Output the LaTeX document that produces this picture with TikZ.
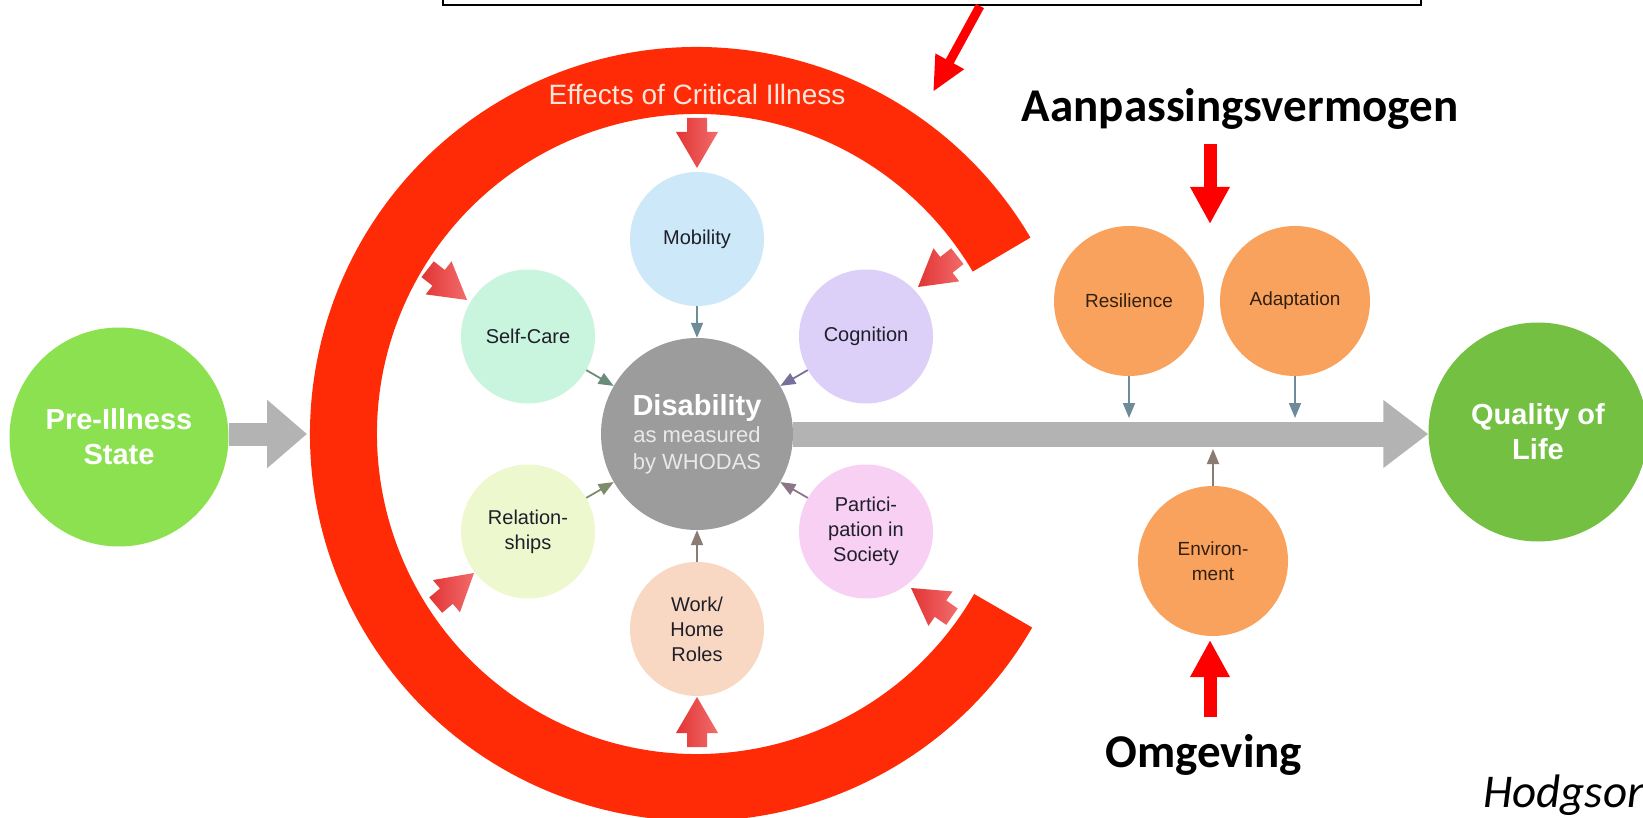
\documentclass[tikz,border=0pt]{standalone}
\usepackage{fontspec}
\setmainfont{Liberation Sans}
\newfontfamily\carlito{Carlito}
\usetikzlibrary{arrows.meta,calc}
\definecolor{ringred}{HTML}{FF2A06}
\definecolor{annred}{HTML}{FF0000}
\definecolor{baA}{HTML}{E23434}
\definecolor{baB}{HTML}{F26C6C}
\definecolor{mobc}{HTML}{CDE8F8}
\definecolor{selfc}{HTML}{C9F5DE}
\definecolor{cogc}{HTML}{DCCFF8}
\definecolor{relc}{HTML}{EEF8CF}
\definecolor{parc}{HTML}{F7D0F3}
\definecolor{workc}{HTML}{F9D8C3}
\definecolor{disc}{HTML}{9C9C9C}
\definecolor{disT}{HTML}{E9E9E9}
\definecolor{orc}{HTML}{F9A25E}
\definecolor{prec}{HTML}{8CE150}
\definecolor{qolc}{HTML}{74C043}
\definecolor{gray1}{HTML}{B3B3B3}
\definecolor{satt}{HTML}{1F1F2A}
\definecolor{ort}{HTML}{33200F}
\definecolor{effc}{HTML}{FDE7DC}
\definecolor{ar1}{HTML}{6F8B9A}
\definecolor{ar2}{HTML}{6B8C7B}
\definecolor{ar3}{HTML}{76709A}
\definecolor{ar4}{HTML}{7F8C6C}
\definecolor{ar5}{HTML}{8C7688}
\definecolor{ar6}{HTML}{8A7B73}
\begin{document}
\begin{tikzpicture}[x=1pt,y=-1pt,
  sat/.style={circle, inner sep=0pt, minimum size=134pt, align=center, text=satt, font=\fontsize{20}{25}\selectfont},
  orn/.style={circle, fill=orc, inner sep=0pt, minimum size=150pt, align=center, text=ort, font=\fontsize{19}{25}\selectfont},
  bigc/.style={circle, inner sep=0pt, minimum size=219pt, align=center, text=white, font=\fontsize{29}{35}\selectfont\bfseries},
  dutch/.style={font=\carlito\fontsize{47}{56}\selectfont\bfseries, inner sep=0pt},
  smallarr/.style={line width=1.8pt, -{Triangle[width=12pt,length=15pt]}},
  bigarrL/.style={draw=gray1, line width=23pt, -{Triangle[width=66pt,length=40pt]}},
  bigarrR/.style={draw=gray1, line width=25pt, -{Triangle[width=65pt,length=45pt]}},
  redarr/.style={draw=annred, line width=13pt, -{Triangle[width=37pt,length=37pt]}},
  blockarr/.pic={\shade[left color=baA, right color=baB] (-50,-10) -- (-36,-10) -- (-36,-21) -- (0,0) -- (-36,21) -- (-36,10) -- (-50,10) -- cycle;}
]
\fill[white] (0,0) rectangle (1643,818);
\useasboundingbox (0,0) rectangle (1643,818);
\clip (0,0) rectangle (1643,818);

% top box
\node[draw=black, line width=2.5pt, minimum width=978pt, minimum height=40pt, inner sep=0pt] (box) at (932,-15) {};

% ring
\coordinate (C) at (697,434);
\fill[ringred] ($(C)+(-30.5:387)$) arc[start angle=-30.5, end angle=-330, radius=387]
  -- ($(C)+(-330:320)$) arc[start angle=-330, end angle=-30.5, radius=320] -- cycle;
\node[font=\fontsize{28}{32}\selectfont, text=effc, anchor=base, inner sep=0pt] (eff) at (697,105) {Effects of Critical Illness};

% main nodes
\node[bigc, fill=prec] (pre) at (119,437) {Pre-Illness\\State};
\node[bigc, fill=qolc] (qol) at (1538,432) {Quality of\\Life};
\node[circle, fill=disc, minimum size=192pt, inner sep=0pt, align=center, text=disT, font=\fontsize{22}{27}\selectfont] (dis) at (C) {{\fontsize{29}{29}\selectfont\bfseries\color{white}Disability}\\as measured\\by WHODAS};

\node[sat, fill=mobc] (mob) at (697,239) {Mobility};
\node[sat, fill=selfc] (self) at (528,336.5) {Self-Care};
\node[sat, fill=cogc] (cog) at (866,336.5) {Cognition};
\node[sat, fill=relc] (rel) at (528,531.5) {Relation-\\ships};
\node[sat, fill=parc] (par) at (866,531.5) {Partici-\\pation in\\Society};
\node[sat, fill=workc] (work) at (697,629) {Work/\\Home\\Roles};

\node[orn] (res) at (1129,301) {Resilience};
\node[orn] (ada) at (1295,301) {Adaptation};
\node[orn] (env) at (1213,561) {Environ-\\ment};

% big gray arrows
\coordinate (ringL) at (307,434);
\draw[bigarrL] (pre.east |- ringL) -- (ringL);
\draw[bigarrR] (dis.east) -- (qol.west |- dis.east);

% small arrows to disability
\draw[smallarr, ar1] (mob) -- (dis);
\draw[smallarr, ar2] (self) -- (dis);
\draw[smallarr, ar3] (cog) -- (dis);
\draw[smallarr, ar4] (rel) -- (dis);
\draw[smallarr, ar5] (par) -- (dis);
\draw[smallarr, ar6] (work) -- (dis);

% small arrows to main shaft
\coordinate (shtop) at (0,418);
\coordinate (shbot) at (0,449);
\draw[smallarr, ar1] (res) -- (res |- shtop);
\draw[smallarr, ar1] (ada) -- (ada |- shtop);
\draw[smallarr, ar6] (env) -- (env |- shbot);

% block arrows from ring
\pic[rotate=-90] at (697,168) {blockarr};
\pic[rotate=90] at (697,697) {blockarr};
\pic[rotate=-38] at (467,300) {blockarr};
\pic[rotate=-142] at (918,287) {blockarr};
\pic[rotate=40] at (474,573) {blockarr};
\pic[rotate=145] at (911,588) {blockarr};

% annotation
\node[dutch, anchor=base] (aan) at (1240,122) {Aanpassingsvermogen};
\node[dutch, anchor=base] (omg) at (1204,767) {Omgeving};
\node[font=\carlito\itshape\fontsize{47}{56}\selectfont, anchor=base west, inner sep=0pt] (hod) at (1483,807) {Hodgson};

\coordinate (aanS) at (1210,144);
\coordinate (aanT) at (1210,224);
\draw[redarr] (aanS) -- (aanT);
\coordinate (omgS) at (1210,717);
\coordinate (omgT) at (1210,640);
\draw[redarr] (omgS) -- (omgT);
\coordinate (boxS) at (980,6);
\coordinate (boxT) at (933,92);
\draw[draw=annred, line width=9pt, -{Triangle[width=30pt,length=35pt]}] (boxS) -- (boxT);
\end{tikzpicture}
\end{document}
